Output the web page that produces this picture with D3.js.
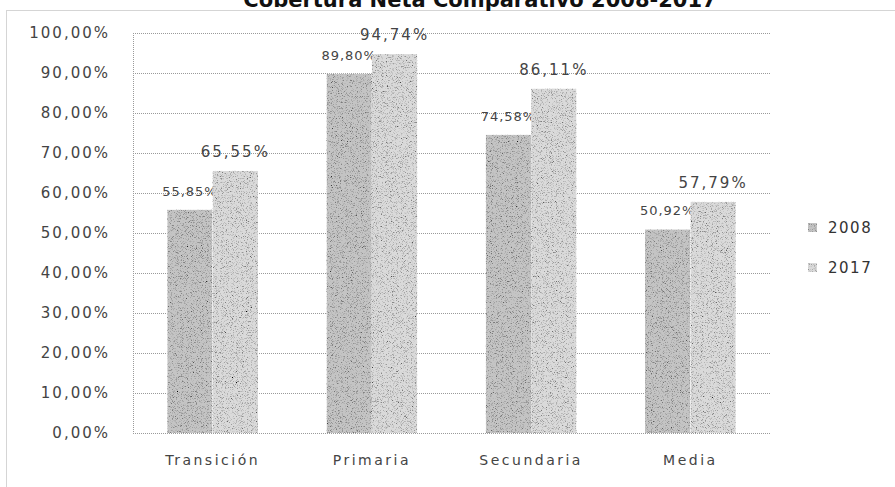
<!DOCTYPE html>
<html>
<head>
<meta charset="utf-8">
<script src="https://cdn.jsdelivr.net/npm/d3@7"></script>
<style>
  body { margin: 0; background: #fff; }
  svg { display: block; }
</style>
</head>
<body>
<svg id="chart" width="895" height="487"></svg>
<script>
const title = "Cobertura Neta Comparativo 2008-2017";
const categories = ["Transición", "Primaria", "Secundaria", "Media"];
const seriesNames = ["2008", "2017"];
const values2008 = [55.85, 89.80, 74.58, 50.92];
const values2017 = [65.55, 94.74, 86.11, 57.79];
const yTicks = [0, 10, 20, 30, 40, 50, 60, 70, 80, 90, 100];

const series = [
  { name: seriesNames[0], values: values2008, fill: "#c4c4c4", labelSize: 13, labelSpacing: 1 },
  { name: seriesNames[1], values: values2017, fill: "#dadada", labelSize: 15, labelSpacing: 2 }
];

const fmt = v => d3.format(".2f")(v).replace(".", ",") + "%";

const svg = d3.select("#chart");
const defs = svg.append("defs");
const f = defs.append("filter").attr("id", "grain")
  .attr("x", 0).attr("y", 0).attr("width", 1).attr("height", 1);
f.append("feTurbulence").attr("type", "fractalNoise").attr("baseFrequency", 1.2)
  .attr("numOctaves", 2).attr("seed", 7).attr("result", "n");
f.append("feColorMatrix").attr("in", "n").attr("type", "matrix")
  .attr("values", "2.6 0 0 0 -0.25  2.6 0 0 0 -0.25  2.6 0 0 0 -0.25  0 0 0 0 1")
  .attr("result", "g");
f.append("feBlend").attr("mode", "multiply").attr("in", "SourceGraphic").attr("in2", "g").attr("result", "b");
f.append("feComposite").attr("in", "b").attr("in2", "SourceGraphic").attr("operator", "in");

// outer border
svg.append("rect").attr("x", 6.5).attr("y", 10.5).attr("width", 920).attr("height", 520)
  .attr("fill", "none").attr("stroke", "#aaa").attr("stroke-dasharray", "1,1");

// title
svg.append("text").attr("x", 480).attr("y", 7).attr("text-anchor", "middle")
  .attr("font-family", "DejaVu Sans").attr("font-weight", "bold").attr("font-size", 21)
  .attr("fill", "#111").text(title);

const pLeft = 133, pRight = 770, pTop = 33, pBottom = 433;
const y = d3.scaleLinear().domain([0, 100]).range([pBottom, pTop]);
const x0 = d3.scaleBand().domain(categories).range([pLeft, pRight]).paddingInner(0.43).paddingOuter(0.215);
const x1 = d3.scaleBand().domain(seriesNames).range([0, x0.bandwidth()]);

// gridlines
svg.append("g").selectAll("line").data(yTicks).join("line")
  .attr("x1", pLeft).attr("x2", pRight)
  .attr("y1", d => y(d) + 0.5).attr("y2", d => y(d) + 0.5)
  .attr("stroke", "#9a9a9a").attr("stroke-dasharray", "1,1");
svg.append("line").attr("x1", pLeft + 0.5).attr("x2", pLeft + 0.5).attr("y1", pTop).attr("y2", pBottom)
  .attr("stroke", "#9a9a9a").attr("stroke-dasharray", "1,1");

// y axis
const yAxis = svg.append("g").attr("transform", `translate(${pLeft},0)`)
  .call(d3.axisLeft(y).tickValues(yTicks).tickFormat(fmt).tickSize(0).tickPadding(23));
yAxis.select(".domain").remove();
yAxis.selectAll("text").attr("font-family", "DejaVu Sans").attr("font-size", 15)
  .attr("letter-spacing", 2).attr("fill", "#444");

// x axis
const xAxis = svg.append("g").attr("transform", `translate(0,${pBottom})`)
  .call(d3.axisBottom(x0).tickSize(0));
xAxis.select(".domain").remove();
xAxis.selectAll("text").attr("y", 32).attr("dy", 0).attr("font-family", "DejaVu Sans")
  .attr("font-size", 14).attr("letter-spacing", 2.5).attr("fill", "#444");

// bars
const groups = svg.append("g").selectAll("g").data(series).join("g");
groups.selectAll("rect").data(s => s.values.map((v, i) => ({ s, v, c: categories[i] }))).join("rect")
  .attr("x", d => x0(d.c) + x1(d.s.name))
  .attr("y", d => y(d.v))
  .attr("width", x1.bandwidth())
  .attr("height", d => pBottom - y(d.v))
  .attr("fill", d => d.s.fill)
  .attr("filter", "url(#grain)");

// labels
groups.selectAll("text").data(s => s.values.map((v, i) => ({ s, v, c: categories[i] }))).join("text")
  .attr("x", d => x0(d.c) + x1(d.s.name) + x1.bandwidth() / 2)
  .attr("y", d => y(d.v) - 14)
  .attr("text-anchor", "middle")
  .attr("font-family", "DejaVu Sans")
  .attr("font-size", d => d.s.labelSize)
  .attr("letter-spacing", d => d.s.labelSpacing)
  .attr("fill", "#444")
  .text(d => fmt(d.v));

// legend
const lg = svg.append("g").selectAll("g").data(series).join("g")
  .attr("transform", (d, i) => `translate(808,${228 + i * 40})`);
lg.append("rect").attr("x", 0).attr("y", -5).attr("width", 9).attr("height", 9)
  .attr("fill", d => d.fill).attr("filter", "url(#grain)");
lg.append("text").attr("x", 20).attr("y", 0).attr("dy", "0.35em")
  .attr("font-family", "DejaVu Sans").attr("font-size", 15).attr("letter-spacing", 1.5)
  .attr("fill", "#333").text(d => d.name);
</script>
</body>
</html>
